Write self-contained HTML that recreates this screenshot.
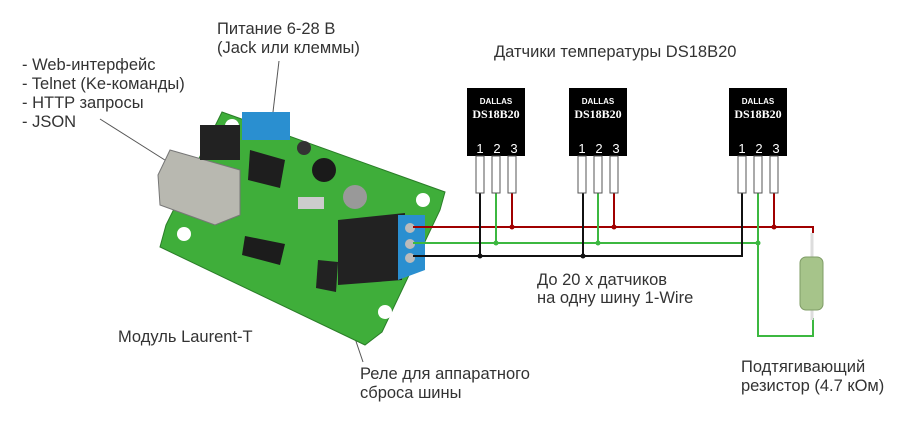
<!DOCTYPE html>
<html><head><meta charset="utf-8"><style>
html,body{margin:0;padding:0;background:#fff;}
svg{display:block;}
text{font-family:"Liberation Sans",sans-serif;font-size:16.5px;fill:#333;}
.s1{font-family:"Liberation Sans",sans-serif;font-size:8px;fill:#fff;font-weight:bold;}
.s2{font-family:"Liberation Serif",serif;font-size:12px;fill:#fff;font-weight:bold;}
.pn{font-size:13px;fill:#fff;}
</style></head><body>
<svg width="902" height="440" viewBox="0 0 902 440" xmlns="http://www.w3.org/2000/svg">
<!-- texts -->
<text x="22" y="70">- Web-интерфейс</text>
<text x="22" y="89">- Telnet (Ke-команды)</text>
<text x="22" y="108">- HTTP запросы</text>
<text x="22" y="127">- JSON</text>
<text x="217" y="34">Питание 6-28 В</text>
<text x="217" y="53">(Jack или клеммы)</text>
<text x="494" y="57">Датчики температуры DS18B20</text>
<text x="118" y="342">Модуль Laurent-T</text>
<text x="537" y="285">До 20 х датчиков</text>
<text x="537" y="303">на одну шину 1-Wire</text>
<text x="360" y="379">Реле для аппаратного</text>
<text x="360" y="398">сброса шины</text>
<text x="741" y="372">Подтягивающий</text>
<text x="741" y="391">резистор (4.7 кОм)</text>
<!-- leader lines -->
<line x1="100" y1="119" x2="168" y2="162" stroke="#555" stroke-width="1"/>
<line x1="279" y1="61" x2="273" y2="112" stroke="#555" stroke-width="1"/>
<line x1="363" y1="362" x2="342" y2="300" stroke="#555" stroke-width="1"/>
<!-- board -->
<polygon points="222,112 445,192 440,210 382,332 365,345 160,247 166,225" fill="#3fae3a" stroke="#2a7d28" stroke-width="1"/>
<circle cx="184" cy="234" r="7" fill="#fff"/>
<circle cx="232" cy="126" r="7" fill="#fff"/>
<circle cx="423" cy="200" r="7" fill="#fff"/>
<circle cx="385" cy="312" r="7" fill="#fff"/>
<!-- ethernet -->
<polygon points="170,150 240,170 240,215 215,225 160,205 158,175" fill="#b8b8b0" stroke="#777"/>
<rect x="200" y="125" width="40" height="35" fill="#222"/>
<!-- blue power terminal -->
<rect x="242" y="112" width="48" height="28" fill="#2a8fd0"/>
<!-- chips -->
<polygon points="250,150 285,160 280,188 248,180" fill="#1e1e1e"/>
<circle cx="324" cy="170" r="12" fill="#1a1a1a"/>
<circle cx="304" cy="148" r="7" fill="#333"/>
<polygon points="245,236 285,244 280,265 242,255" fill="#1c1c1c"/>
<circle cx="355" cy="197" r="12" fill="#999"/>
<polygon points="338,220 405,213 402,280 338,285" fill="#222"/>
<polygon points="318,260 338,262 336,292 316,288" fill="#222"/>
<rect x="298" y="197" width="26" height="12" fill="#ccc"/>
<!-- blue 1-wire terminal -->
<polygon points="398,215 425,215 425,270 398,280" fill="#2a8fd0"/>
<circle cx="410" cy="228" r="5" fill="#bbb"/>
<circle cx="410" cy="244" r="5" fill="#bbb"/>
<circle cx="410" cy="258" r="5" fill="#bbb"/>
<!-- wires -->
<g fill="none" stroke-width="2">
<polyline points="413,227 813,227 813,233" stroke="#a00000"/>
<line x1="512" y1="193" x2="512" y2="227" stroke="#a00000"/>
<line x1="614" y1="193" x2="614" y2="227" stroke="#a00000"/>
<line x1="774" y1="193" x2="774" y2="227" stroke="#a00000"/>
<line x1="413" y1="243" x2="758" y2="243" stroke="#3cb840"/>
<line x1="496" y1="193" x2="496" y2="243" stroke="#3cb840"/>
<line x1="598" y1="193" x2="598" y2="243" stroke="#3cb840"/>
<polyline points="758,193 758,336 813,336 813,318" stroke="#3cb840"/>
<polyline points="413,256 742,256 742,193" stroke="#111"/>
<line x1="480" y1="193" x2="480" y2="256" stroke="#111"/>
<line x1="583" y1="193" x2="583" y2="256" stroke="#111"/>
</g>
<g>
<circle cx="512" cy="227" r="2.5" fill="#a00000"/><circle cx="614" cy="227" r="2.5" fill="#a00000"/><circle cx="774" cy="227" r="2.5" fill="#a00000"/>
<circle cx="496" cy="243" r="2.5" fill="#3cb840"/><circle cx="598" cy="243" r="2.5" fill="#3cb840"/><circle cx="758" cy="243" r="2.5" fill="#3cb840"/>
<circle cx="480" cy="256" r="2.5" fill="#111"/><circle cx="583" cy="256" r="2.5" fill="#111"/>
</g>
<!-- resistor -->
<line x1="812" y1="233" x2="812" y2="320" stroke="#ddd" stroke-width="3"/>
<rect x="800" y="257" width="23" height="53" rx="6" fill="#a6c48a" stroke="#7f9c66"/>
<!-- sensors -->
<g id="s">
<rect x="467" y="88" width="58" height="68" fill="#000"/>
<text class="s1" x="496" y="104" text-anchor="middle">DALLAS</text>
<text class="s2" x="496" y="118" text-anchor="middle">DS18B20</text>
<text class="pn" x="480" y="153" text-anchor="middle">1</text>
<text class="pn" x="497" y="153" text-anchor="middle">2</text>
<text class="pn" x="514" y="153" text-anchor="middle">3</text>
<rect x="476" y="156" width="8" height="37" fill="#fff" stroke="#555"/>
<rect x="492" y="156" width="8" height="37" fill="#fff" stroke="#555"/>
<rect x="508" y="156" width="8" height="37" fill="#fff" stroke="#555"/>
</g>
<use href="#s" x="102"/>
<use href="#s" x="262"/>
</svg>
</body></html>
